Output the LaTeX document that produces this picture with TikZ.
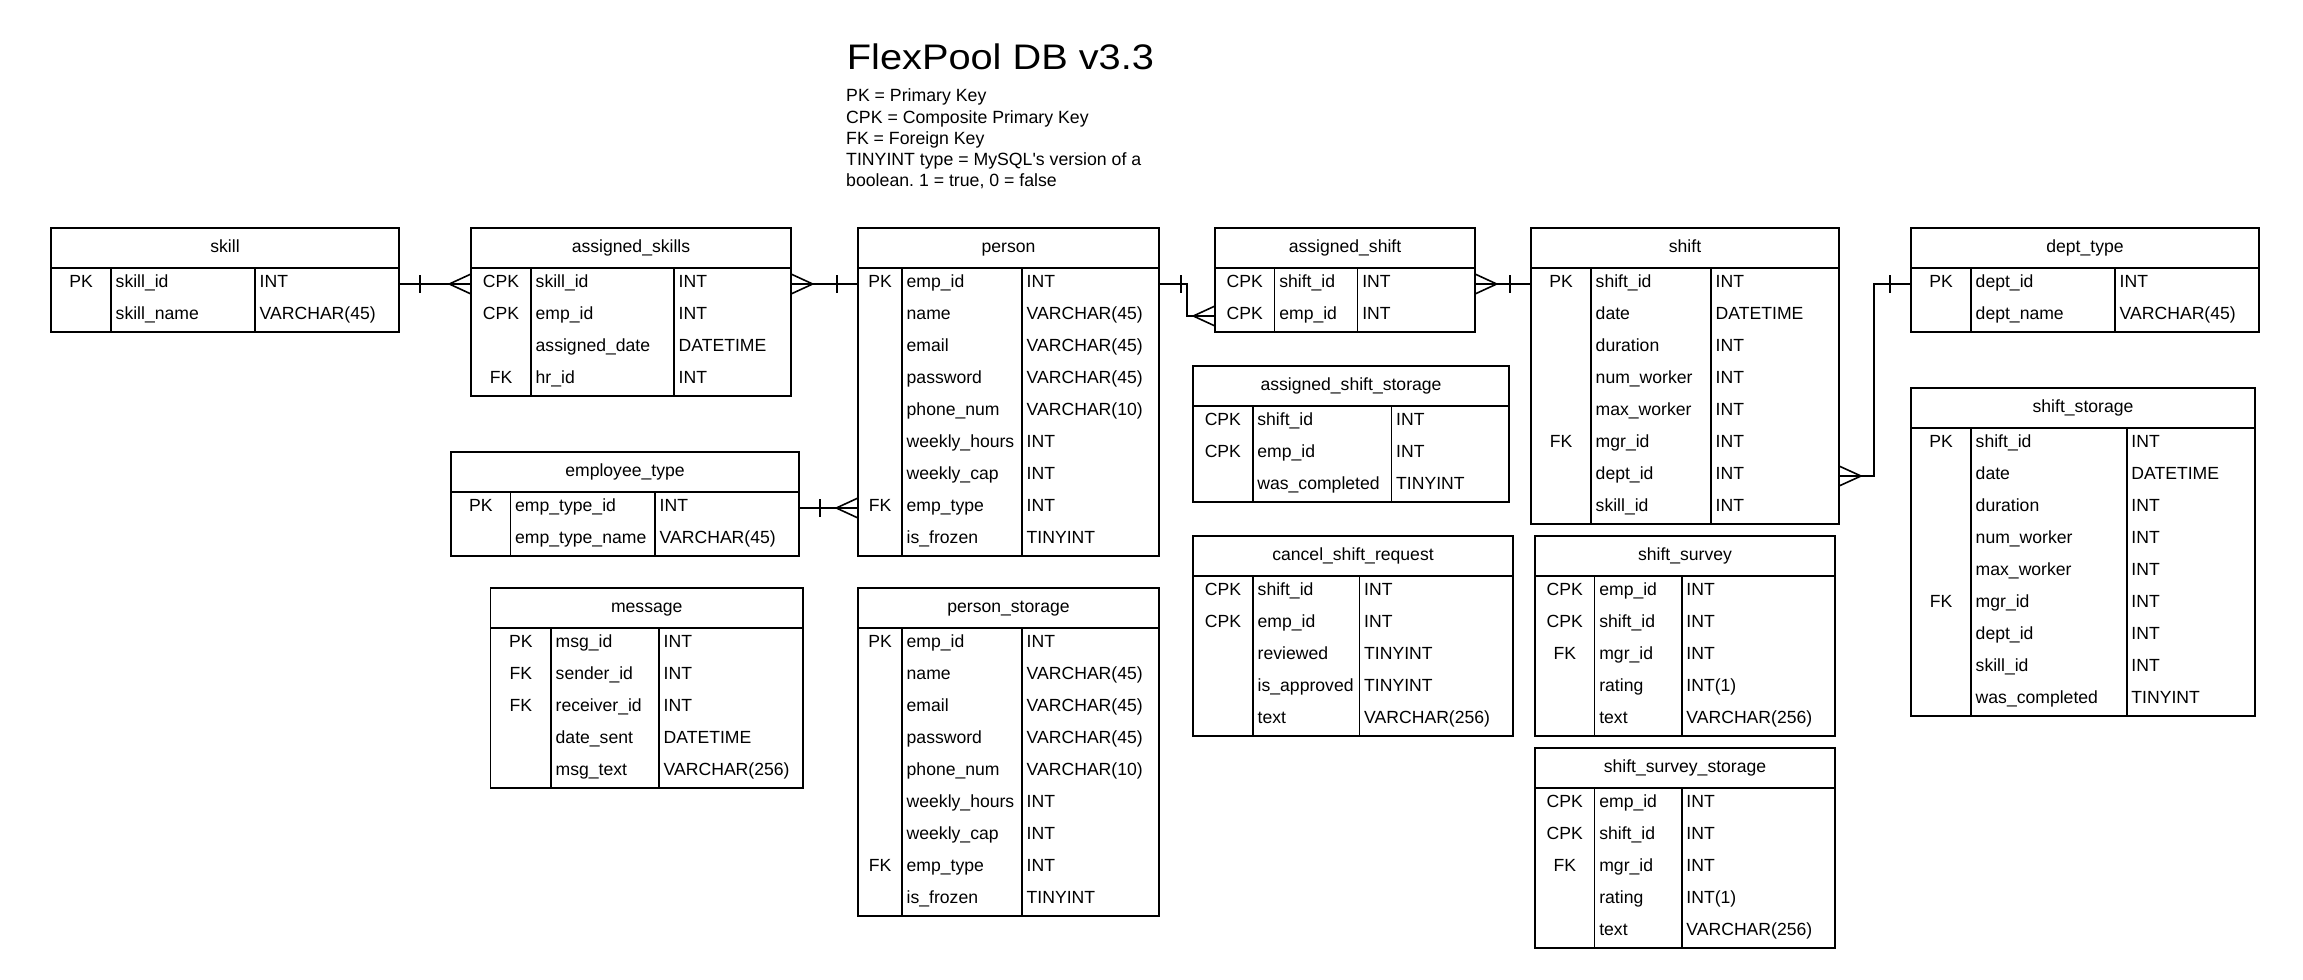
\documentclass[tikz,border=0pt]{standalone}
\usepackage{fontspec}
\usepackage{graphicx}
\setmainfont{Liberation Sans}[Ligatures=TeXOff]
\frenchspacing
\usetikzlibrary{calc}
\tikzset{
  tline/.style={line width=1.6pt, draw=black},
  conn/.style={line width=1.6pt, draw=black},
  cell/.style={inner sep=0pt, font=\fontsize{17.6}{21}\selectfont},
}
% #1 id, #2 x left, #3 x col1, #4 x col2, #5 x right, #6 y top, #7 rows, #8 title, #9 row list
\newcommand{\ertable}[9]{%
  \pgfmathsetmacro{\erbot}{#6+40+32*#7}
  \draw[tline] (#2,#6) rectangle (#5,\erbot);
  \draw[tline] (#2,#6+40) -- (#5,#6+40);
  \draw[tline] (#3,#6+40) -- (#3,\erbot);
  \draw[tline] (#4,#6+40) -- (#4,\erbot);
  \node[cell, anchor=base] (#1) at ({(#2+#5)/2},#6+24) {#8};
  \foreach \ek/\en/\et [count=\ei] in {#9} {
    \pgfmathsetmacro{\ery}{#6+40+32*\ei-16}
    \node[cell, anchor=base] (#1-k\ei) at ({(#2+#3)/2},\ery+3.4) {\ek};
    \node[cell, anchor=base west] (#1-n\ei) at (#3+4.5,\ery+3.4) {\en};
    \node[cell, anchor=base west] (#1-t\ei) at (#4+4.5,\ery+3.4) {\et};
    \coordinate (#1-w\ei) at (#2,\ery);
    \coordinate (#1-e\ei) at (#5,\ery);
  }
}
\newcommand{\crow}[2]{\draw[conn] ($(#1)+(0,-10)$) -- ($(#1)+(#2,0)$) -- ($(#1)+(0,10)$);}
\newcommand{\erbar}[2]{\draw[conn] ($(#1)+(#2,-9)$) -- ($(#1)+(#2,9)$);}

\begin{document}
\begin{tikzpicture}[x=1pt,y=-1pt]
\fill[white] (0,0) rectangle (2303,980);
\useasboundingbox (0,0) rectangle (2303,980);

\node[anchor=base west, inner sep=0pt, font=\fontsize{35.5}{40}\selectfont] (title) at (846.7,69.3) {\scalebox{1.12}[1]{FlexPool DB v3.3}};
\node[anchor=north west, inner sep=0pt, align=left, font=\fontsize{17.7}{21.25}\selectfont] (legend) at (846,86.7)
  {\rule{0pt}{15pt}PK = Primary Key\\CPK = Composite Primary Key\\FK = Foreign Key\\TINYINT type = MySQL's version of a\\boolean. 1 = true, 0 = false};

\ertable{skill}{51}{111}{255}{399}{228}{2}{skill}
  {PK/skill\_id/INT, {}/skill\_name/VARCHAR(45)}
\ertable{asgskills}{471}{531}{674}{791}{228}{4}{assigned\_skills}
  {CPK/skill\_id/INT, CPK/emp\_id/INT, {}/assigned\_date/DATETIME, FK/hr\_id/INT}
\ertable{emptype}{451}{510.5}{655}{799}{452}{2}{employee\_type}
  {PK/emp\_type\_id/INT, {}/emp\_type\_name/VARCHAR(45)}
\ertable{message}{490.5}{551}{659}{803}{588}{5}{message}
  {PK/msg\_id/INT, FK/sender\_id/INT, FK/receiver\_id/INT, {}/date\_sent/DATETIME, {}/msg\_text/VARCHAR(256)}
\ertable{person}{858}{902}{1022}{1159}{228}{9}{person}
  {PK/emp\_id/INT, {}/name/VARCHAR(45), {}/email/VARCHAR(45), {}/password/VARCHAR(45), {}/phone\_num/VARCHAR(10), {}/weekly\_hours/INT, {}/weekly\_cap/INT, FK/emp\_type/INT, {}/is\_frozen/TINYINT}
\ertable{pstorage}{858}{902}{1022}{1159}{588}{9}{person\_storage}
  {PK/emp\_id/INT, {}/name/VARCHAR(45), {}/email/VARCHAR(45), {}/password/VARCHAR(45), {}/phone\_num/VARCHAR(10), {}/weekly\_hours/INT, {}/weekly\_cap/INT, FK/emp\_type/INT, {}/is\_frozen/TINYINT}
\ertable{asgshift}{1215}{1274.6}{1357.6}{1475}{228}{2}{assigned\_shift}
  {CPK/shift\_id/INT, CPK/emp\_id/INT}
\ertable{asgstorage}{1193}{1252.7}{1391.5}{1509}{366}{3}{assigned\_shift\_storage}
  {CPK/shift\_id/INT, CPK/emp\_id/INT, {}/was\_completed/TINYINT}
\ertable{cancel}{1193}{1253}{1359.5}{1513}{536}{5}{cancel\_shift\_request}
  {CPK/shift\_id/INT, CPK/emp\_id/INT, {}/reviewed/TINYINT, {}/is\_approved/TINYINT, {}/text/VARCHAR(256)}
\ertable{shift}{1531}{1591}{1711}{1839}{228}{8}{shift}
  {PK/shift\_id/INT, {}/date/DATETIME, {}/duration/INT, {}/num\_worker/INT, {}/max\_worker/INT, FK/mgr\_id/INT, {}/dept\_id/INT, {}/skill\_id/INT}
\ertable{survey}{1535}{1594.6}{1681.7}{1835}{536}{5}{shift\_survey}
  {CPK/emp\_id/INT, CPK/shift\_id/INT, FK/mgr\_id/INT, {}/rating/INT(1), {}/text/VARCHAR(256)}
\ertable{sstorage}{1535}{1594.6}{1681.7}{1835}{748}{5}{shift\_survey\_storage}
  {CPK/emp\_id/INT, CPK/shift\_id/INT, FK/mgr\_id/INT, {}/rating/INT(1), {}/text/VARCHAR(256)}
\ertable{dept}{1911}{1971}{2115}{2259}{228}{2}{dept\_type}
  {PK/dept\_id/INT, {}/dept\_name/VARCHAR(45)}
\ertable{shstorage}{1911}{1971}{2126.7}{2255}{388}{9}{shift\_storage}
  {PK/shift\_id/INT, {}/date/DATETIME, {}/duration/INT, {}/num\_worker/INT, {}/max\_worker/INT, FK/mgr\_id/INT, {}/dept\_id/INT, {}/skill\_id/INT, {}/was\_completed/TINYINT}

% connectors
\draw[conn] (skill-e1) -- (asgskills-w1);
\erbar{skill-e1}{21} \crow{asgskills-w1}{-21.7}
\draw[conn] (asgskills-e1) -- (person-w1);
\crow{asgskills-e1}{21.7} \erbar{person-w1}{-21}
\draw[conn] (emptype-e1) -- (person-w8);
\erbar{emptype-e1}{21} \crow{person-w8}{-21.7}
\draw[conn] (person-e1) -- ++(27.7,0) |- (asgshift-w2);
\erbar{person-e1}{21.7} \crow{asgshift-w2}{-21.7}
\draw[conn] (asgshift-e1) -- (shift-w1);
\crow{asgshift-e1}{21.7} \erbar{shift-w1}{-21}
\draw[conn] (shift-e7) -- ++(35,0) |- (dept-w1);
\crow{shift-e7}{22} \erbar{dept-w1}{-21}
\end{tikzpicture}
\end{document}
